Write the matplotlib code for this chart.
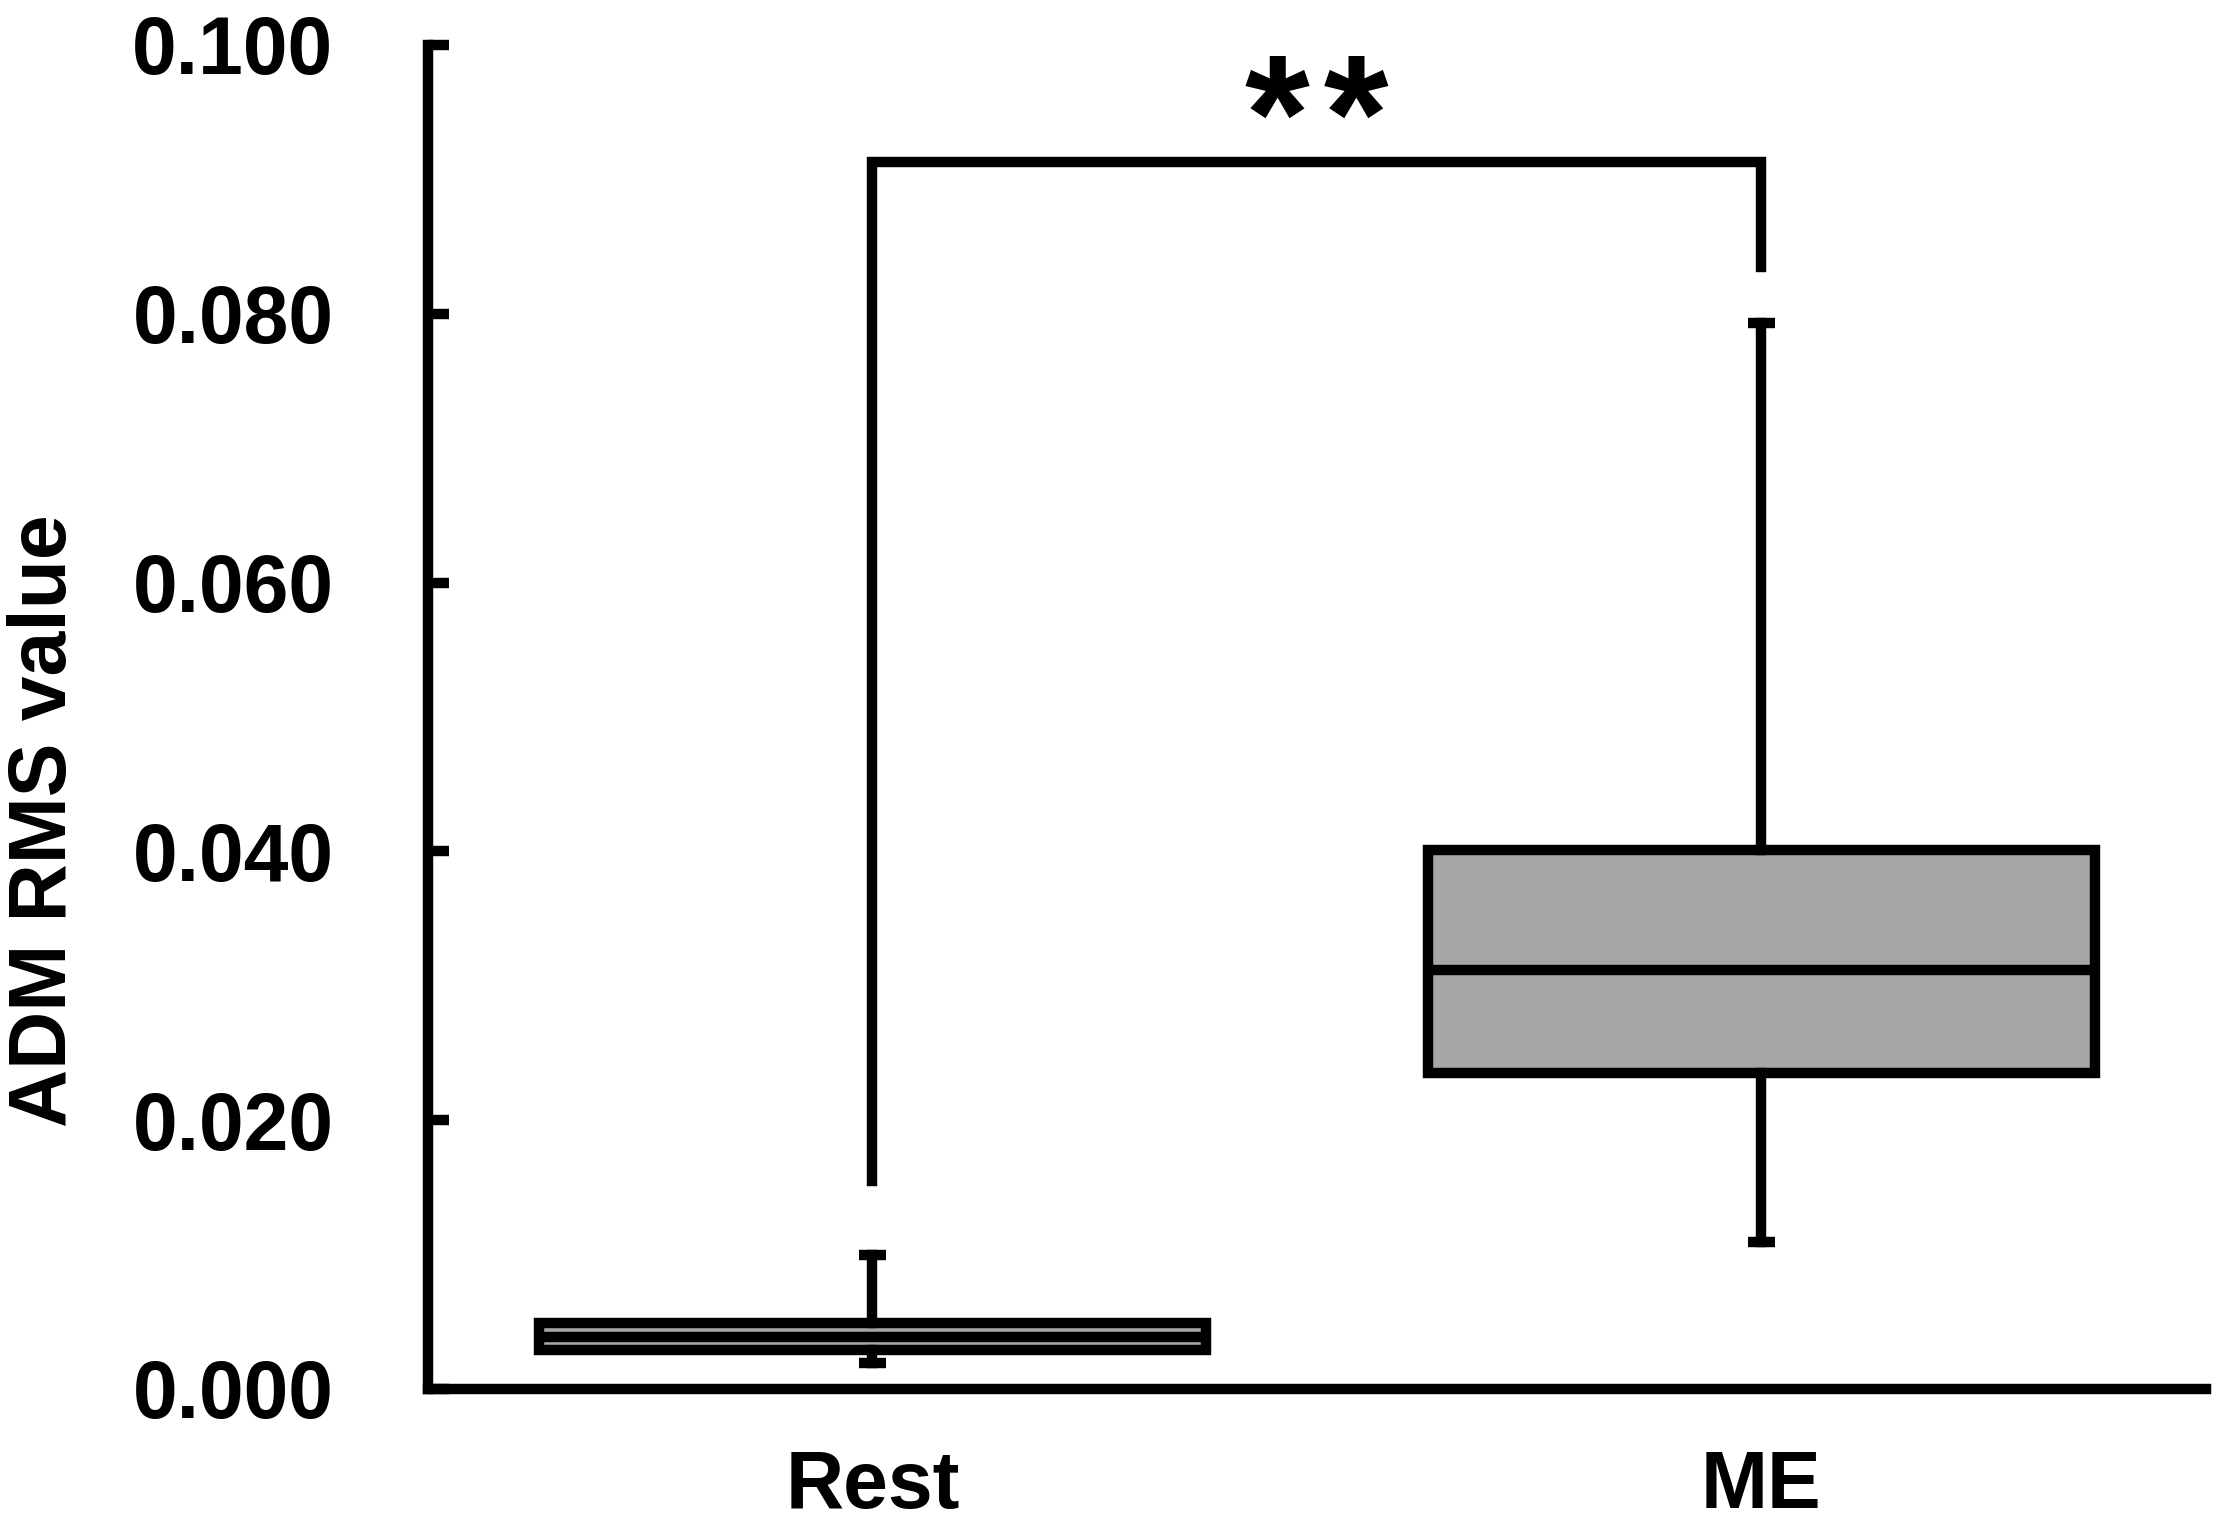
import matplotlib
matplotlib.use("Agg")
import matplotlib.pyplot as plt

plt.rcParams["font.family"] = ["Liberation Sans", "DejaVu Sans"]
plt.rcParams["font.weight"] = "bold"

# box statistics
groups = ["Rest", "ME"]
whislo = [0.0019, 0.0109]
q1 = [0.0029, 0.0235]
med = [0.0039, 0.0312]
q3 = [0.0049, 0.0401]
whishi = [0.0100, 0.0793]

# significance bracket
bracket_top = 0.0913
bracket_left_low = 0.0155
bracket_right_low = 0.0835
sig_label = "*\u200a*"

yticks = [0.0, 0.02, 0.04, 0.06, 0.08, 0.10]

LW = 7.5
FILL = "#a6a6a6"
FS = 58

stats = [dict(label=g, whislo=lo, q1=a, med=m, q3=b, whishi=hi)
         for g, lo, a, m, b, hi in zip(groups, whislo, q1, med, q3, whishi)]

fig = plt.figure(figsize=(22.17, 15.24), dpi=100)
ax = fig.add_axes([0.193, 0.0886, 0.802, 0.8819])

pos = [1, 2]
ax.bxp(stats, positions=pos, widths=0.75, patch_artist=True,
       showfliers=False, capwidths=0.03,
       boxprops=dict(facecolor=FILL, edgecolor="black", linewidth=LW),
       medianprops=dict(color="black", linewidth=LW),
       whiskerprops=dict(color="black", linewidth=LW),
       capprops=dict(color="black", linewidth=LW, solid_capstyle="butt"))

# bracket + stars
ax.plot([pos[0], pos[0], pos[1], pos[1]],
        [bracket_left_low, bracket_top, bracket_top, bracket_right_low],
        color="black", lw=LW, solid_joinstyle="miter", clip_on=False)
ax.text((pos[0] + pos[1]) / 2, bracket_top - 0.0033, sig_label,
        ha="center", va="bottom", fontsize=120, fontweight="bold",
        clip_on=False)

ax.set_xlim(0.5, 2.5)
ax.set_ylim(0, 0.1)
ax.set_yticks(yticks)
ax.set_yticklabels([f"{t:.3f}" for t in yticks])
ax.set_xticks(pos)
ax.set_xticklabels(groups)

for s in ["top", "right"]:
    ax.spines[s].set_visible(False)
ax.spines["left"].set_linewidth(LW)
ax.spines["bottom"].set_linewidth(LW)

ax.tick_params(axis="y", direction="in", length=15, width=LW, pad=68,
               labelsize=FS)
ax.tick_params(axis="x", length=0, pad=43, labelsize=FS)

ax.set_ylabel("ADM RMS value", fontsize=FS, fontweight="bold")
ax.yaxis.set_label_coords(-0.194, 0.423)

fig.savefig("out.png", dpi=100)
